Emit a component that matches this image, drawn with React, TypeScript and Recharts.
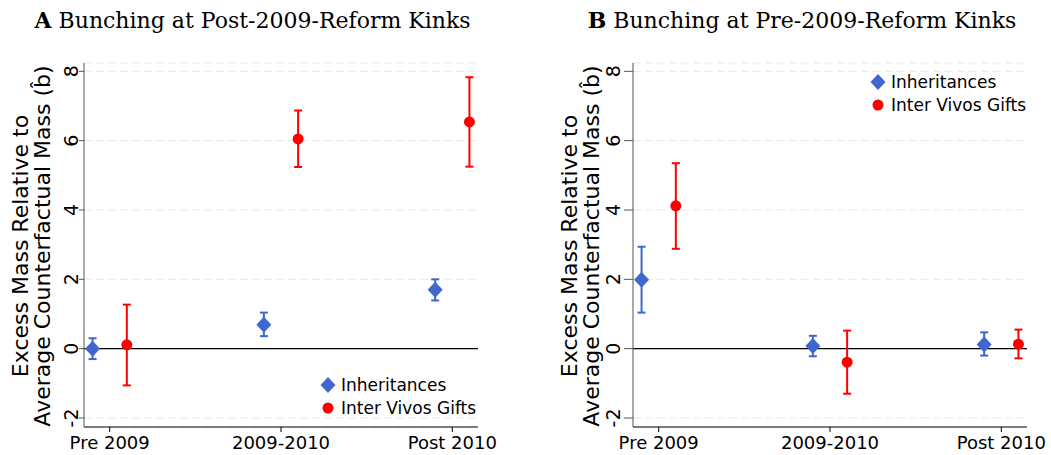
import {
  CartesianGrid,
  ErrorBar,
  ReferenceLine,
  Scatter,
  ScatterChart,
  XAxis,
  YAxis,
} from "recharts";

const PERIODS = ["Pre 2009", "2009-2010", "Post 2010"];
const Y_TICKS = [-2, 0, 2, 4, 6, 8];

// Panel A: post-2009-reform kinks
const INH_A = [0.0, 0.69, 1.7];
const INH_A_LO = [-0.3, 0.36, 1.39];
const INH_A_HI = [0.3, 1.04, 2.0];
const GIFT_A = [0.11, 6.05, 6.54];
const GIFT_A_LO = [-1.06, 5.24, 5.25];
const GIFT_A_HI = [1.27, 6.87, 7.83];

// Panel B: pre-2009-reform kinks
const INH_B = [1.99, 0.08, 0.12];
const INH_B_LO = [1.04, -0.22, -0.2];
const INH_B_HI = [2.94, 0.37, 0.47];
const GIFT_B = [4.12, -0.39, 0.13];
const GIFT_B_LO = [2.88, -1.3, -0.28];
const GIFT_B_HI = [5.35, 0.52, 0.55];

const BLUE = "#4066cf";
const RED = "#ff0000";

function toPoints(vals: number[], lo: number[], hi: number[], shift: number) {
  return vals.map((v, i) => ({
    x: i + 1 + shift,
    y: v,
    err: [v - lo[i], hi[i] - v],
  }));
}

const Diamond = (props: any) => {
  const { cx, cy } = props;
  if (cx == null || cy == null) return null;
  return (
    <polygon
      points={`${cx},${cy - 8} ${cx + 7.5},${cy} ${cx},${cy + 8} ${cx - 7.5},${cy}`}
      fill={BLUE}
    />
  );
};

const Dot = (props: any) => {
  const { cx, cy } = props;
  if (cx == null || cy == null) return null;
  return <circle cx={cx} cy={cy} r={5.5} fill={RED} />;
};

const YTick = (props: any) => {
  const { x, y, payload } = props;
  const bx = x + 1;
  return (
    <text
      x={bx}
      y={y}
      transform={`rotate(-90 ${bx} ${y})`}
      textAnchor="middle"
      fontSize={19}
      fill="#000"
    >
      {payload.value}
    </text>
  );
};

const YLabel = ({ x1, x2, cy }: any) => (
  <g fontSize={22} fill="#000">
    <text x={x1} y={cy} transform={`rotate(-90 ${x1} ${cy})`} textAnchor="middle">
      Excess Mass Relative to
    </text>
    <text x={x2} y={cy} transform={`rotate(-90 ${x2} ${cy})`} textAnchor="middle">
      Average Counterfactual Mass (b̂)
    </text>
  </g>
);

const LegendBox = ({ left, top }: { left: number; top: number }) => (
  <div
    style={{
      position: "absolute",
      left,
      top,
      fontSize: 17,
      color: "#000",
      lineHeight: "22.5px",
      whiteSpace: "nowrap",
    }}
  >
    <div style={{ display: "flex", alignItems: "center" }}>
      <svg width={16} height={16} style={{ marginRight: 5 }}>
        <polygon points="8,0 15.5,8 8,16 0.5,8" fill={BLUE} />
      </svg>
      Inheritances
    </div>
    <div style={{ display: "flex", alignItems: "center" }}>
      <svg width={16} height={16} style={{ marginRight: 5 }}>
        <circle cx={8} cy={8} r={5.5} fill={RED} />
      </svg>
      Inter Vivos Gifts
    </div>
  </div>
);

type PanelProps = {
  inh: any[];
  gift: any[];
  width: number;
  axisWidth: number;
  marginRight: number;
  tickSize: number;
  tickMargin: number;
  label: { x1: number; x2: number };
};

function Panel({ inh, gift, width, axisWidth, marginRight, tickSize, tickMargin, label }: PanelProps) {
  return (
    <ScatterChart
      width={width}
      height={455}
      margin={{ top: 63, right: marginRight, bottom: 0, left: 0 }}
    >
      <CartesianGrid
        vertical={false}
        stroke="#e8e8e8"
        strokeDasharray="8 4"
      />
      <XAxis
        type="number"
        dataKey="x"
        domain={[0.85, 3.15]}
        ticks={[1, 2, 3]}
        allowDataOverflow
        tickFormatter={(v: number) => PERIODS[v - 1]}
        tick={{ fontSize: 18, fill: "#000" }}
        tickSize={5}
        tickMargin={4}
        height={28}
        stroke="#000"
      />
      <YAxis
        type="number"
        dataKey="y"
        domain={[-2.26, 8.24]}
        ticks={Y_TICKS}
        allowDataOverflow
        width={axisWidth}
        tick={<YTick />}
        tickSize={tickSize}
        tickMargin={tickMargin}
        stroke="#555"
        label={<YLabel x1={label.x1} x2={label.x2} cy={246} />}
      />
      <ReferenceLine y={0} stroke="#000" strokeWidth={1.3} />
      <Scatter name="Inheritances" data={inh} shape={<Diamond />} fill={BLUE} isAnimationActive={false}>
        <ErrorBar dataKey="err" direction="y" width={4} strokeWidth={2} stroke={BLUE} />
      </Scatter>
      <Scatter name="Inter Vivos Gifts" data={gift} shape={<Dot />} fill={RED} isAnimationActive={false}>
        <ErrorBar dataKey="err" direction="y" width={4} strokeWidth={2} stroke={RED} />
      </Scatter>
    </ScatterChart>
  );
}

const titleStyle: React.CSSProperties = {
  position: "absolute",
  top: 7,
  fontFamily: "'DejaVu Serif', serif",
  fontSize: 22,
  lineHeight: "26px",
  textAlign: "center",
  whiteSpace: "nowrap",
  color: "#000",
};

export default function App() {
  return (
    <div
      style={{
        position: "absolute",
        left: 0,
        top: 0,
        width: 1051,
        height: 455,
        background: "#fff",
        fontFamily: "'DejaVu Sans', sans-serif",
      }}
    >
      <div style={{ ...titleStyle, left: 0, width: 505 }}>
        <b>A</b> Bunching at Post-2009-Reform Kinks
      </div>
      <div style={{ ...titleStyle, left: 552, width: 500 }}>
        <b>B</b> Bunching at Pre-2009-Reform Kinks
      </div>
      <div style={{ position: "absolute", left: 0, top: 0 }}>
        <Panel
          inh={toPoints(INH_A, INH_A_LO, INH_A_HI, -0.1)}
          gift={toPoints(GIFT_A, GIFT_A_LO, GIFT_A_HI, 0.1)}
          width={520}
          axisWidth={84}
          marginRight={42}
          tickSize={5}
          tickMargin={2}
          label={{ x1: 28, x2: 50 }}
        />
      </div>
      <div style={{ position: "absolute", left: 530, top: 0 }}>
        <Panel
          inh={toPoints(INH_B, INH_B_LO, INH_B_HI, -0.1)}
          gift={toPoints(GIFT_B, GIFT_B_LO, GIFT_B_HI, 0.1)}
          width={521}
          axisWidth={103}
          marginRight={24}
          tickSize={9}
          tickMargin={5}
          label={{ x1: 47, x2: 69 }}
        />
      </div>
      <LegendBox left={320} top={374} />
      <LegendBox left={870} top={71} />
    </div>
  );
}
